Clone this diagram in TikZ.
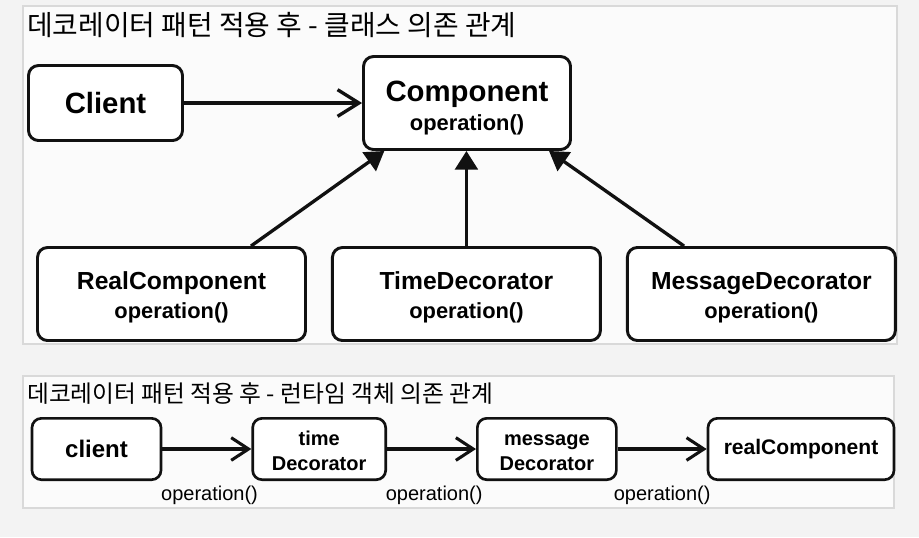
\documentclass[tikz,border=0pt]{standalone}
\usepackage{fontspec}
\setmainfont{Liberation Sans}
\newfontfamily\krfont{Noto Sans CJK KR}
\usetikzlibrary{positioning,arrows.meta,calc}
\definecolor{bgout}{HTML}{F3F3F3}
\definecolor{bgin}{HTML}{FBFBFB}
\definecolor{rim}{HTML}{D9D9D9}
\definecolor{ink}{HTML}{111111}
\tikzset{
  panel/.style={draw=rim, fill=bgin, line width=0.9pt},
  ttl/.style={anchor=west, inner sep=0pt, font=\krfont\fontsize{20.9}{24}\selectfont},
  cls/.style={rectangle, rounded corners=7.5pt, draw=ink, fill=white, line width=2.2pt,
              align=center, font=\bfseries\fontsize{16.4}{21.5}\selectfont},
  obj/.style={rectangle, rounded corners=7pt, draw=ink, fill=white, line width=2pt,
              align=center, minimum height=46pt, font=\bfseries\fontsize{15}{18.75}\selectfont},
  dep/.style={-{Straight Barb[length=16pt, width=20pt]}, line width=2.5pt, draw=ink},
  call/.style={-{Straight Barb[length=13pt, width=17pt]}, line width=2.3pt, draw=ink},
  impl/.style={-{Triangle[length=14pt, width=17pt]}, line width=2.5pt, draw=ink},
  oplbl/.style={font=\fontsize{15}{18}\selectfont, inner sep=0pt}
}
\begin{document}
\begin{tikzpicture}[x=0.75pt, y=-0.75pt]
\fill[bgout] (0,0) rectangle (919,537);
\useasboundingbox (0,0) rectangle (919,537);
% class view
\draw[panel] (23,6) rectangle (897,344);
\node[ttl] (ttlclass) at (27,25) {데코레이터 패턴 적용 후 - 클래스 의존 관계};
\node[cls, minimum width=115.5pt, minimum height=56.25pt,
      font=\bfseries\fontsize{22}{26}\selectfont] (client) at (105.5,103) {Client};
\node[cls, minimum width=155.25pt, minimum height=69.75pt] (comp) at (467,103)
  {\rule{0pt}{23pt}{\fontsize{22}{26}\selectfont Component}\\operation()};
\node[cls, minimum width=201pt, minimum height=69.75pt] (real) at (171.5,294)
  {\rule{0pt}{18pt}{\fontsize{18.5}{22}\selectfont RealComponent}\\operation()};
\node[cls, minimum width=201pt, minimum height=69.75pt, right=18pt of real] (time)
  {\rule{0pt}{18pt}{\fontsize{18.5}{22}\selectfont TimeDecorator}\\operation()};
\node[cls, minimum width=201pt, minimum height=69.75pt, right=18pt of time] (msg)
  {\rule{0pt}{18pt}{\fontsize{18.5}{22}\selectfont MessageDecorator}\\operation()};
\draw[dep] (client.east) -- (comp.west);
\draw[impl] ([xshift=59.6pt]real.north) -- ([xshift=-62pt]comp.south);
\draw[impl] (time.north) -- (time.north |- comp.south);
\draw[impl] ([xshift=-58pt]msg.north) -- ([xshift=61.5pt]comp.south);
% runtime view
\draw[panel] (23,376) rectangle (894,508);
\node[ttl, font=\krfont\fontsize{17.8}{21}\selectfont] (ttlrun) at (27,394)
  {데코레이터 패턴 적용 후 - 런타임 객체 의존 관계};
\node[obj, minimum width=96.75pt, font=\bfseries\fontsize{18}{22}\selectfont] (cli) at (96.5,449) {client};
\node[obj, minimum width=99.75pt, right=66.75pt of cli] (tdec) {\rule{0pt}{14pt}time\\Decorator};
\node[obj, minimum width=104.25pt, right=66.75pt of tdec] (mdec) {\rule{0pt}{14pt}message\\Decorator};
\node[obj, minimum width=139.5pt, right=66.75pt of mdec,
      font=\bfseries\fontsize{15.8}{19}\selectfont] (rcomp) {realComponent};
\draw[call] (cli) -- node[oplbl, xshift=2pt, yshift=-35pt] {operation()} (tdec);
\draw[call] (tdec) -- node[oplbl, xshift=2pt, yshift=-35pt] {operation()} (mdec);
\draw[call] (mdec) -- node[oplbl, yshift=-35pt] {operation()} (rcomp);
\end{tikzpicture}
\end{document}
